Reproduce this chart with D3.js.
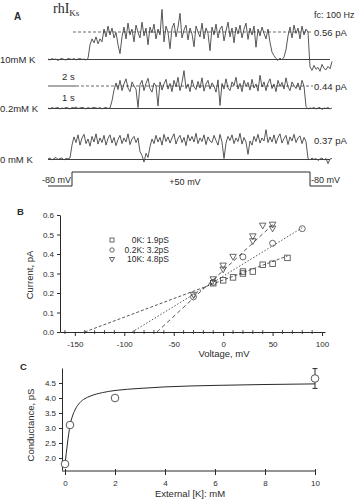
<!DOCTYPE html>
<html><head><meta charset="utf-8">
<script src="https://cdn.jsdelivr.net/npm/d3@7"></script>
<style>
body{margin:0;background:#fff;}
svg{display:block;font-family:"Liberation Sans",Arial,sans-serif;}
</style></head>
<body>
<svg id="c" width="356" height="500"></svg>
<script>
// ---------- Panel A data (single-channel currents, pA; one sample per step) ----------
const trace10K = [
0.01,-0.01,0.02,0,0.01,-0.02,0.01,0.02,0,-0.01,0.02,0.01,0,0.02,-0.01,0.01,0.02,0,0.01,-0.01,0.02,
0.30,0.42,0.34,0.46,0.32,0.42,0.36,
0.62,0.46,0.68,0.50,0.64,0.44,0.55,
0.30,0.12,
0.46,0.66,0.42,0.74,0.50,0.62,0.36,0.70,0.55,0.44,
0.76,0.48,0.64,0.30,0.66,0.54,0.72,0.42,0.62,0.50,
1.02,0.36,0.68,0.55,0.22,0.64,0.74,0.46,0.66,0.94,
0.44,0.60,0.70,0.40,0.64,0.52,0.26,0.68,0.56,0.46,
0.74,0.42,0.64,0.53,0.18,0.66,0.50,0.72,0.44,0.62,
0.68,0.38,0.58,0.76,0.46,0.64,0.34,0.66,0.52,0.70,
0.44,0.62,0.74,0.41,0.64,0.50,0.68,0.25,0.62,0.48,
0.66,0.53,0.42,0.62,
0.35,0.15,0.08,0.02,-0.02,0.03,-0.01,0.05,0.20,
0.48,0.66,0.44,0.70,0.53,0.64,0.42,0.68,0.50,0.62,0.56,
-0.15,-0.22,-0.12,-0.20,-0.16,-0.24,-0.10,-0.18,-0.21,-0.14,-0.19,-0.04];
const trace02K = [
0.01,-0.01,0.02,0,0.01,0.02,-0.01,0.01,0,0.02,0.01,-0.01,0.02,0.01,0.03,0,0.01,0.02,0.01,-0.01,0.02,0,0.01,0.02,0.01,0,0.02,-0.01,0.01,0.02,0,0.01,
0.15,0.36,
0.50,0.37,0.55,0.35,0.48,0.58,0.40,0.33,0.52,0.44,
0.38,0.02,0.47,0.55,0.35,0.49,0.59,0.39,0.32,0.50,
0.44,0.05,0.52,0.36,0.48,0.57,0.38,0.49,0.33,0.55,
0.42,0.61,0.35,0.51,0.74,0.39,0.48,0.33,0.56,0.43,
0.37,0.53,0.40,0.60,0.34,0.48,0.55,0.38,0.50,0.44,
0.32,0.56,0.06,0.49,0.38,0.58,0.40,0.35,0.52,0.45,
0.61,0.38,0.49,0.33,0.55,0.43,0.51,0.36,0.57,0.40,
0.48,0.34,0.65,0.42,0.52,0.35,0.50,0.58,0.39,0.48,
0.33,0.55,0.43,0.51,0.38,0.60,0.42,0.35,0.52,0.45,
0.39,0.50,0.36,0.55,0.44,
0.04,-0.01,0.01,0,0.02,-0.01,0.01,0.02,-0.02,0.01,0,0.02,-0.01,0.01];
const trace0K = [
0.01,0.03,-0.01,0.02,0.04,0,0.02,0.03,-0.01,0.02,0.01,0.03,
0.28,0.44,0.33,0.48,0.28,0.42,0.49,0.31,0.40,0.26,
0.45,0.34,0.50,0.30,0.42,0.33,0.47,0.28,0.41,0.48,
0.32,0.43,0.27,0.39,0.47,0.31,0.42,0.34,0.50,0.29,
0.40,0.45,0.33,0.42,
0.15,0.08,-0.05,0.12,0.04,0.25,
0.40,0.31,0.47,0.34,0.43,0.28,0.49,0.35,0.44,0.32,
0.42,0.50,0.30,0.41,0.47,0.33,0.43,0.27,0.48,0.36,
0.45,0.34,0.51,0.31,0.42,0.35,0.48,0.29,0.44,0.36,
0.33,0.47,0.37,0.28,0.49,0.34,0.02,0.32,0.45,0.37,
0.48,0.31,0.42,0.35,0.51,0.30,0.43,0.34,0.10,0.36,
0.28,0.45,0.35,0.49,0.32,0.42,0.36,0.58,0.33,0.44,
0.34,0.48,0.31,0.43,0.50,0.32,0.41,0.47,0.29,0.44,
0.36,0.49,0.33,0.42,0.46,0.31,0.43,0.35,
0.02,-0.01,0.03,0,0.02,-0.02,0.01,0.03,-0.01,0.02,-0.08,0.01,0.02];
const openLevels = [0.56, 0.44, 0.37];
const traceLabels = ["10mM K", "0.2mM K", "0 mM K"];
const protocolV = [-80, 50, -80];
const protocolT = [0, 12, 131, 142];

// ---------- Panel B data ----------
const v0K = [-10,0,10,20,20,30,40,50,65];
const i0K = [0.25,0.265,0.28,0.30,0.31,0.31,0.345,0.35,0.38];
const v02K = [-30,-10,20,50,80];
const i02K = [0.18,0.255,0.385,0.455,0.53];
const v10K = [-30,-10,0,0,10,30,30,40,50,50];
const i10K = [0.19,0.27,0.32,0.34,0.385,0.465,0.49,0.545,0.55,0.53];
const fitV = [[-140,65],[-92,80],[-67,50]];
const fitI = [[0,0.39],[0,0.535],[0,0.55]];
const legendLabels = ["0K: 1.9pS","0.2K: 3.2pS","10K: 4.8pS"];
const xTicksB = [-150,-100,-50,0,50,100];
const yTicksB = [0,0.1,0.2,0.3,0.4,0.5,0.6];

// ---------- Panel C data ----------
const kConc = [0,0.2,2,10];
const gMean = [1.8,3.1,4.0,4.65];
const gErr = [0,0,0,0.33];
const curveK = [0,0.1,0.2,0.3,0.4,0.6,0.8,1,1.5,2,3,4,6,8,10];
const curveG = [1.78,2.5,3.08,3.4,3.6,3.85,3.98,4.06,4.18,4.25,4.32,4.37,4.42,4.45,4.47];
const xTicksC = [0,2,4,6,8,10];
const yTicksC = [2.0,2.5,3.0,3.5,4.0,4.5];

const svg = d3.select("#c");
const ink = "#2a2a2a";
const txt = (x,y,s,opts={}) => svg.append("text").attr("x",x).attr("y",y).text(s)
  .attr("font-size",opts.size||9).attr("fill",opts.fill||ink)
  .attr("text-anchor",opts.anchor||"start").attr("font-weight",opts.weight||"normal");

// ================= Panel A =================
txt(14,20,"A",{size:10,weight:"bold"});
const title = svg.append("text").attr("x",53).attr("y",13).attr("font-family","'Liberation Serif','DejaVu Serif',serif")
  .attr("font-size",14).attr("fill",ink);
title.append("tspan").text("rhI");
title.append("tspan").attr("font-size",9).attr("dy",3).text("Ks");
txt(314,18,"fc: 100 Hz",{size:9});

const xA = d3.scaleLinear().domain([0,142]).range([48,332]);
const traces = [trace10K, trace02K, trace0K];
const baseY = [59.5,108.5,159.5];
const openY = [32,86,140.5];
traces.forEach((tr,k)=>{
  const y = d3.scaleLinear().domain([0,openLevels[k]]).range([baseY[k],openY[k]]);
  svg.append("line").attr("x1",48).attr("x2",330).attr("y1",baseY[k]).attr("y2",baseY[k])
    .attr("stroke",ink).attr("stroke-width",0.9);
  const line = d3.line().x((d,i)=>xA(i)).y(d=>y(d));
  svg.append("path").attr("d",line(tr)).attr("fill","none").attr("stroke","#444").attr("stroke-width",0.9);
  txt(0,baseY[k]+3.5,traceLabels[k],{size:9.5});
  txt(314,y(openLevels[k])+3.5,openLevels[k].toFixed(2)+"  pA",{size:9.5});
});
svg.append("line").attr("x1",73).attr("x2",313).attr("y1",openY[0]).attr("y2",openY[0])
  .attr("stroke",ink).attr("stroke-width",0.7).attr("stroke-dasharray","3,2");
svg.append("line").attr("x1",48).attr("x2",76).attr("y1",openY[1]).attr("y2",openY[1])
  .attr("stroke",ink).attr("stroke-width",0.8);
svg.append("line").attr("x1",76).attr("x2",313).attr("y1",openY[1]).attr("y2",openY[1])
  .attr("stroke",ink).attr("stroke-width",0.7).attr("stroke-dasharray","3,2");
txt(62,80,"2  s",{size:9.5});
txt(62,101,"1  s",{size:9.5});

const yP = d3.scaleLinear().domain([-80,50]).range([186,172]);
const protoPts = [];
protocolV.forEach((v,i)=>{ protoPts.push([protocolT[i],v]); protoPts.push([protocolT[i+1],v]); });
svg.append("path").attr("d",d3.line().x(d=>xA(d[0])).y(d=>yP(d[1]))(protoPts))
  .attr("fill","none").attr("stroke",ink).attr("stroke-width",1);
txt(42,183,"-80  mV",{size:9});
txt(185,185,"+50  mV",{size:9,anchor:"middle"});
txt(311,183,"-80  mV",{size:9});

// ================= Panel B =================
txt(17,215,"B",{size:9.5,weight:"bold"});
const xB = d3.scaleLinear().domain([-165,103]).range([60,325]);
const yB = d3.scaleLinear().domain([0,0.6]).range([332,215]);
const gxB = svg.append("g").attr("transform","translate(0,332)")
  .call(d3.axisBottom(xB).tickValues(xTicksB).tickFormat(d=>String(d)).tickSize(4).tickSizeOuter(0));
gxB.selectAll("text").attr("font-size",8).attr("fill",ink).attr("dy","1em").attr("font-family","'Liberation Sans',Arial");
gxB.selectAll("line,path").attr("stroke",ink);
d3.range(-160,101,10).filter(v=>v%50!==0).forEach(v=>{
  svg.append("line").attr("x1",xB(v)).attr("x2",xB(v)).attr("y1",330).attr("y2",334).attr("stroke",ink).attr("stroke-width",0.8);
});
const gyB = svg.append("g").attr("transform","translate(60,0)")
  .call(d3.axisLeft(yB).tickValues(yTicksB).tickFormat(d3.format(".1f")).tickSize(3).tickSizeOuter(0));
gyB.selectAll("text").attr("font-size",8).attr("fill",ink).attr("font-family","'Liberation Sans',Arial");
gyB.selectAll("line,path").attr("stroke",ink);
svg.append("text").attr("transform","translate(33,275) rotate(-90)").attr("text-anchor","middle")
  .attr("font-size",9.5).attr("fill",ink).text("Current,  pA");
txt(224,357,"Voltage,  mV",{size:9.5,anchor:"middle"});

const dashes = ["3,2","1.5,1.8","4,3"];
fitV.forEach((vs,k)=>{
  svg.append("line").attr("x1",xB(vs[0])).attr("y1",yB(fitI[k][0])).attr("x2",xB(vs[1])).attr("y2",yB(fitI[k][1]))
    .attr("stroke",ink).attr("stroke-width",0.8).attr("stroke-dasharray",dashes[k]);
});
const sqr = (g,x,y,s)=>g.append("rect").attr("x",x-s/2).attr("y",y-s/2).attr("width",s).attr("height",s)
  .attr("fill","none").attr("stroke","#444").attr("stroke-width",0.8);
const circ = (g,x,y,r)=>g.append("circle").attr("cx",x).attr("cy",y).attr("r",r)
  .attr("fill","none").attr("stroke","#444").attr("stroke-width",0.8);
const tri = (g,x,y,s)=>g.append("path").attr("d",`M${x-s/2},${y-s*0.4}L${x+s/2},${y-s*0.4}L${x},${y+s*0.5}Z`)
  .attr("fill","none").attr("stroke","#444").attr("stroke-width",0.8);
v0K.forEach((v,i)=>sqr(svg,xB(v),yB(i0K[i]),5.5));
v02K.forEach((v,i)=>circ(svg,xB(v),yB(i02K[i]),3));
v10K.forEach((v,i)=>tri(svg,xB(v),yB(i10K[i]),6.5));
sqr(svg,112,240,4); circ(svg,112,250,2.2); tri(svg,112,259.5,5);
legendLabels.forEach((s,i)=>txt(169,243+i*9.7,s,{size:8.5,anchor:"end"}));

// ================= Panel C =================
txt(20,370,"C",{size:9.5,weight:"bold"});
const xC = d3.scaleLinear().domain([0,10]).range([65,315]);
const yC = d3.scaleLinear().domain([1.6,5.0]).range([470,368]);
svg.append("line").attr("x1",62).attr("x2",315).attr("y1",471).attr("y2",471).attr("stroke",ink);
const gxC = svg.append("g").attr("transform","translate(0,471)")
  .call(d3.axisBottom(xC).tickValues(xTicksC).tickFormat(d=>String(d)).tickSize(4).tickSizeOuter(0));
gxC.select("path").remove();
gxC.selectAll("text").attr("font-size",8).attr("fill",ink).attr("dy","1em").attr("font-family","'Liberation Sans',Arial");
gxC.selectAll("line").attr("stroke",ink).attr("y1",-2);
const gyC = svg.append("g").attr("transform","translate(62,0)")
  .call(d3.axisLeft(yC).tickValues(yTicksC).tickFormat(d3.format(".1f")).tickSize(3).tickSizeOuter(0));
gyC.selectAll("text").attr("font-size",8).attr("fill",ink).attr("font-family","'Liberation Sans',Arial");
gyC.selectAll("line,path").attr("stroke",ink);
svg.append("text").attr("transform","translate(34,425) rotate(-90)").attr("text-anchor","middle")
  .attr("font-size",9.5).attr("fill",ink).text("Conductance,  pS");
txt(190,497,"External  [K]:  mM",{size:9.5,anchor:"middle"});

svg.append("path").attr("d",d3.line().x((d,i)=>xC(d)).y((d,i)=>yC(curveG[i])).curve(d3.curveMonotoneX)(curveK))
  .attr("fill","none").attr("stroke",ink).attr("stroke-width",1);
kConc.forEach((k,i)=>{
  if(gErr[i]>0){
    const x=xC(k), y1=yC(gMean[i]-gErr[i]), y2=yC(gMean[i]+gErr[i]);
    svg.append("line").attr("x1",x).attr("x2",x).attr("y1",y1).attr("y2",y2).attr("stroke",ink);
    [y1,y2].forEach(y=>svg.append("line").attr("x1",x-2.5).attr("x2",x+2.5).attr("y1",y).attr("y2",y).attr("stroke",ink));
  }
  svg.append("circle").attr("cx",xC(k)).attr("cy",yC(gMean[i])).attr("r",3.8)
    .attr("fill","#fff").attr("stroke","#444").attr("stroke-width",0.9);
});
</script>
</body></html>
